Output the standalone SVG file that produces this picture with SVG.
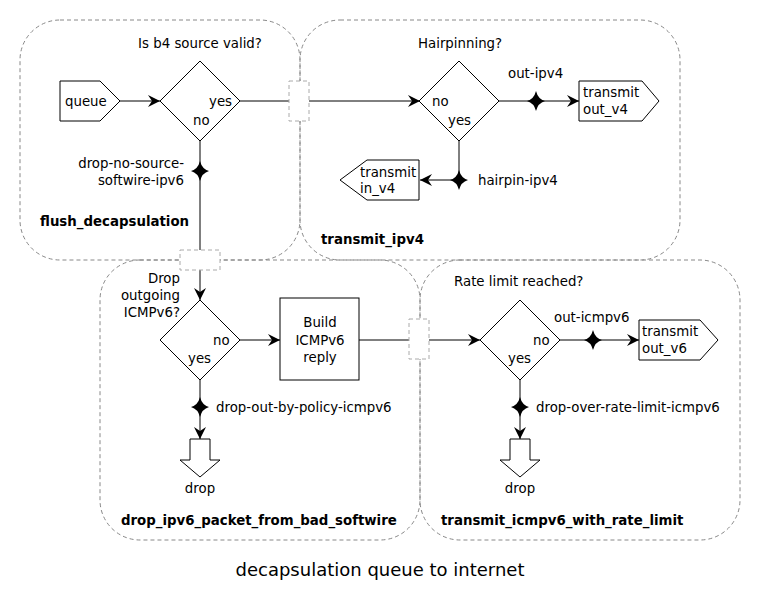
<svg xmlns="http://www.w3.org/2000/svg" width="760" height="600" viewBox="0 0 760 600">
<defs>
<style>
text{font-family:"DejaVu Sans","Liberation Sans",sans-serif;font-size:13.33px;fill:#000}
.b{font-weight:bold}
.m{text-anchor:middle}
.r{text-anchor:end}
.cl{fill:none;stroke:#888;stroke-width:1;stroke-dasharray:4,3}
.pt{fill:#fff;stroke:#aaa;stroke-width:1;stroke-dasharray:4,3}
.nd{fill:#fff;stroke:#000;stroke-width:1}
.e{fill:none;stroke:#000;stroke-width:1}
.st{fill:#000}
</style>
<marker id="ah" viewBox="0 0 12 12" markerWidth="12" markerHeight="12" refX="12" refY="6" orient="auto" markerUnits="userSpaceOnUse">
<path d="M12,6 L0,0 L4,6 L0,12 Z" fill="#000"/>
</marker>
<path id="star" d="M0,-10 Q2,-2 9,0 Q2,2 0,10 Q-2,2 -9,0 Q-2,-2 0,-10 Z"/>
</defs>
<rect width="760" height="600" fill="#fff"/>

<g id="clusters">
<g id="flush_decapsulation"><rect class="cl" x="20" y="20" width="280" height="240" rx="40"/><text class="b" x="40" y="226">flush_decapsulation</text></g>
<g id="transmit_ipv4"><rect class="cl" x="300" y="20" width="380" height="240" rx="40"/><text class="b" x="321" y="244">transmit_ipv4</text></g>
<g id="drop_ipv6_packet_from_bad_softwire"><rect class="cl" x="100" y="260" width="320" height="280" rx="40"/><text class="b" x="121" y="525">drop_ipv6_packet_from_bad_softwire</text></g>
<g id="transmit_icmpv6_with_rate_limit"><rect class="cl" x="420" y="260" width="320" height="280" rx="40"/><text class="b" x="441" y="525">transmit_icmpv6_with_rate_limit</text></g>
</g>

<g id="connectors">
<path class="e" d="M120,101 H160" marker-end="url(#ah)"/>
<path class="e" d="M240,101 H420" marker-end="url(#ah)"/>
<path class="e" d="M200,141 V300" marker-end="url(#ah)"/>
<path class="e" d="M499,101 H579" marker-end="url(#ah)"/>
<path class="e" d="M459,141 V180 H420" marker-end="url(#ah)"/>
<path class="e" d="M240,340 H280" marker-end="url(#ah)"/>
<path class="e" d="M359,340 H480" marker-end="url(#ah)"/>
<path class="e" d="M200,379 V439" marker-end="url(#ah)"/>
<path class="e" d="M560,340 H639" marker-end="url(#ah)"/>
<path class="e" d="M520,379 V439" marker-end="url(#ah)"/>
</g>

<g id="ports">
<rect class="pt" x="289" y="81" width="20" height="40"/>
<rect class="pt" x="180" y="250" width="40" height="20"/>
<rect class="pt" x="409" y="319" width="20" height="40"/>
</g>

<g id="edge-labels">
<use href="#star" class="st" x="200" y="171"/>
<text class="r" x="184" y="168">drop-no-source-</text>
<text class="r" x="184" y="185">softwire-ipv6</text>
<use href="#star" class="st" x="536" y="101"/>
<text x="508" y="78">out-ipv4</text>
<use href="#star" class="st" x="459" y="180"/>
<text x="478" y="185">hairpin-ipv4</text>
<use href="#star" class="st" x="200" y="407"/>
<text x="216" y="412">drop-out-by-policy-icmpv6</text>
<use href="#star" class="st" x="593" y="340"/>
<text x="554" y="322">out-icmpv6</text>
<use href="#star" class="st" x="520" y="407"/>
<text x="536" y="412">drop-over-rate-limit-icmpv6</text>
</g>

<g id="queue"><path class="nd" d="M60,81 H100 L120,101 L100,121 H60 Z"/><text x="65" y="106">queue</text></g>

<g id="b4_valid"><path class="nd" d="M200,61 L240,101 L200,141 L160,101 Z"/><text class="m" x="200" y="48">Is b4 source valid?</text><text x="209" y="106">yes</text><text x="193" y="125">no</text></g>

<g id="hairpinning"><path class="nd" d="M459,61 L499,101 L459,141 L419,101 Z"/><text x="418" y="48">Hairpinning?</text><text x="432" y="106">no</text><text x="448" y="125">yes</text></g>

<g id="transmit_out_v4"><path class="nd" d="M579,81 H642 L659,101 L642,121 H579 Z"/><text x="583" y="97">transmit</text><text x="583" y="114">out_v4</text></g>

<g id="transmit_in_v4"><path class="nd" d="M419,160 H367 L340,180 L367,200 H419 Z"/><text x="360" y="177">transmit</text><text x="360" y="193">in_v4</text></g>

<g id="drop_outgoing"><path class="nd" d="M200,300 L240,340 L200,380 L160,340 Z"/><text class="r" x="180" y="283">Drop</text><text class="r" x="180" y="300">outgoing</text><text class="r" x="180" y="317">ICMPv6?</text><text x="213" y="345">no</text><text x="188" y="363">yes</text></g>

<g id="build_icmpv6"><rect class="nd" x="280" y="298" width="79" height="82"/><text class="m" x="320" y="327">Build</text><text class="m" x="320" y="345">ICMPv6</text><text class="m" x="320" y="362">reply</text></g>

<g id="drop1"><path class="nd" d="M190,439 H210 V460 H220 L200,477 L180,460 H190 Z"/><text class="m" x="200" y="493">drop</text></g>

<g id="rate_limit"><path class="nd" d="M520,300 L560,340 L520,380 L480,340 Z"/><text x="454" y="286">Rate limit reached?</text><text x="533" y="345">no</text><text x="508" y="363">yes</text></g>

<g id="transmit_out_v6"><path class="nd" d="M639,320 H700 L718,340 L700,360 H639 Z"/><text x="642" y="336">transmit</text><text x="642" y="353">out_v6</text></g>

<g id="drop2"><path class="nd" d="M510,439 H530 V460 H540 L520,477 L500,460 H510 Z"/><text class="m" x="520" y="493">drop</text></g>

<text class="m" x="380" y="576" style="font-size:18px">decapsulation queue to internet</text>
</svg>
